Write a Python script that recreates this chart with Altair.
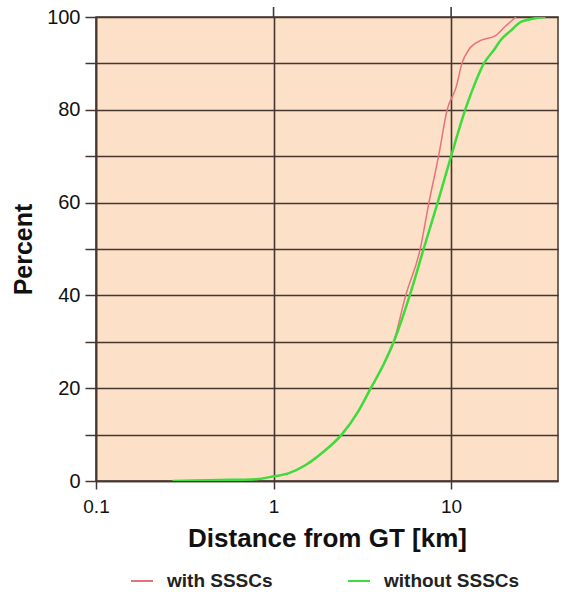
import altair as alt
import pandas as pd

# with SSSCs (red)
red_x = [0.27, 0.5, 0.8, 1.0, 1.22, 1.51, 1.91, 2.42, 3.0, 3.53, 4.15, 4.75, 5.55, 6.7, 7.5, 8.5,
         9.5, 10.7, 11.5, 12.6, 14.8, 17.8, 20.2, 23.2]
red_y = [0, 0.2, 0.4, 1, 1.7, 3.4, 6.3, 10, 15, 20, 25, 30, 40, 50, 60, 70,
         80, 85, 90, 93, 95, 96, 98, 100]
# without SSSCs (green)
green_x = [0.27, 0.5, 0.8, 1.0, 1.22, 1.51, 1.91, 2.42, 3.0, 3.53, 4.15, 4.75, 5.85, 7.0, 8.4, 10.0,
           12.0, 13.4, 15.3, 17.5, 19.0, 21.6, 24.9, 34.0]
green_y = [0, 0.2, 0.4, 1, 1.7, 3.4, 6.3, 10, 15, 20, 25, 30, 40, 50, 60, 70,
           80, 85, 90, 93, 95, 97, 99, 100]

series = ["with SSSCs", "without SSSCs"]
colors = ["#E8727A", "#3CDC3C"]
x_ticks = [0.1, 1, 10]
y_ticks = [0, 10, 20, 30, 40, 50, 60, 70, 80, 90, 100]

red_df = pd.DataFrame({"x": red_x, "y": red_y, "s": series[0], "o": range(len(red_x))})
green_df = pd.DataFrame({"x": green_x, "y": green_y, "s": series[1], "o": range(len(green_x))})

FONT = "Liberation Sans"
GRID = "#45372f"

xs = alt.Scale(type="log", domain=[0.1, 40], nice=False)
ys = alt.Scale(domain=[0, 100], nice=False)

xaxis = alt.Axis(values=x_ticks, format="~g", grid=True, gridColor=GRID, gridWidth=1.6,
                 tickColor=GRID, tickSize=8, tickWidth=1.5, domainColor=GRID, domainWidth=1.5,
                 labelFont=FONT, labelFontSize=19, labelColor="#111", labelPadding=8,
                 labelFlush=False,
                 title="Distance from GT [km]", titleFont=FONT, titleFontSize=26,
                 titleFontWeight="bold", titleColor="#111", titleY=57, titleBaseline="middle")
yaxis = alt.Axis(values=y_ticks, grid=True, gridColor=GRID, gridWidth=1.6,
                 labelExpr="datum.value % 20 == 0 ? datum.label : ''",
                 tickColor=GRID, tickSize=11, tickWidth=1.5, domainColor=GRID, domainWidth=1.5,
                 labelFont=FONT, labelFontSize=20, labelColor="#111", labelPadding=5,
                 labelFlush=False,
                 title="Percent", titleFont=FONT, titleFontSize=25, titleFontWeight="bold",
                 titleColor="#111", titleX=-73, titleY=232, titleAngle=-90,
                 titleAlign="center", titleBaseline="middle")

color = alt.Color("s:N", scale=alt.Scale(domain=series, range=colors),
                  legend=alt.Legend(orient="none", legendX=34, legendY=552, direction="horizontal",
                                    title=None, symbolType="stroke", symbolSize=484,
                                    symbolStrokeWidth=2, labelFont=FONT, labelFontSize=19,
                                    labelFontWeight="bold", labelColor="#222", labelOffset=13,
                                    columnPadding=71))

red = alt.Chart(red_df).mark_line(strokeWidth=1.5, clip=True, interpolate="monotone").encode(
    x=alt.X("x:Q", scale=xs, axis=xaxis),
    y=alt.Y("y:Q", scale=ys, axis=yaxis),
    color=color, order="o:Q")
green = alt.Chart(green_df).mark_line(strokeWidth=2.5, clip=True, interpolate="monotone").encode(
    x=alt.X("x:Q", scale=xs), y=alt.Y("y:Q", scale=ys), color=color, order="o:Q")

ext_df = pd.DataFrame({"x": [1, 10]})
ext = alt.Chart(ext_df).mark_rule(color=GRID, strokeWidth=1.6).encode(
    x=alt.X("x:Q", scale=xs), y=alt.value(-10), y2=alt.value(0))

chart = alt.layer(ext, red, green).properties(
    width=462, height=464,
    padding={"left": 96, "top": 17, "right": 10, "bottom": 111},
    autosize=alt.AutoSizeParams(type="none"),
    background="white",
).configure_view(fill="#FCE0C8", stroke=GRID, strokeWidth=1.5)

chart.save("out.html", embed_options={"renderer": "svg", "actions": False})
